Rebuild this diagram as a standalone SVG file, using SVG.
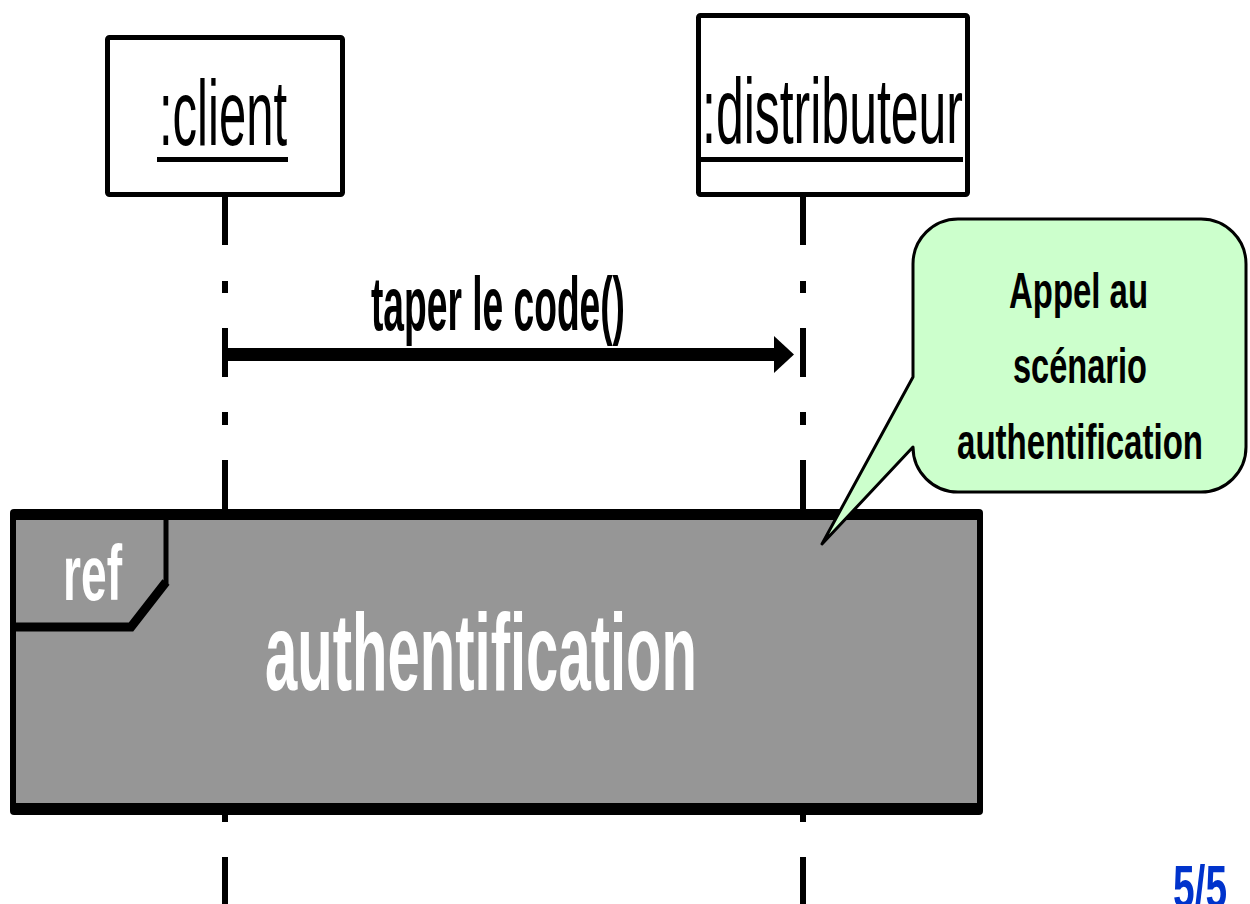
<svg xmlns="http://www.w3.org/2000/svg" width="1250" height="904" viewBox="0 0 1250 904">
<style>
  .box { fill: #ffffff; stroke: #000000; stroke-width: 5; }
  .lbl { font-family: "Liberation Sans Narrow", "Liberation Sans", Arial, sans-serif; fill: #000000; }
  .bold { font-weight: bold; }
  .uline { fill: #000000; }
  .lifeline { fill: none; stroke: #000000; stroke-width: 6; }
  .msg { fill: none; stroke: #000000; stroke-width: 13; }
  .white { fill: #ffffff; }
</style>
<defs>
  <marker id="arrowhead" markerUnits="userSpaceOnUse" markerWidth="21" markerHeight="38" viewBox="0 0 21 38" refX="0" refY="18.5" orient="auto">
    <path d="M0,0 L20,18.5 L0,37 Z" fill="#000000"/>
  </marker>
</defs>
<rect width="1250" height="904" fill="#ffffff"/>

<g id="connectors">
  <path class="lifeline" d="M225,197 V245 M225,281 V293 M225,328 V377 M225,412 V425 M225,460 V512 M225,812 V822 M225,857 V904"/>
  <path class="lifeline" d="M803,197 V245 M803,281 V293 M803,328 V377 M803,412 V425 M803,460 V512 M803,812 V822 M803,857 V904"/>
  <line class="msg" x1="225" y1="354.5" x2="774" y2="354.5" marker-end="url(#arrowhead)"/>
  <text class="lbl bold" x="371" y="330" font-size="76" textLength="254" lengthAdjust="spacingAndGlyphs">taper le code()</text>
</g>

<g id="client">
  <rect class="box" x="107.5" y="37.5" width="235" height="157" rx="2"/>
  <text class="lbl" x="159" y="145" font-size="93" textLength="128" lengthAdjust="spacingAndGlyphs">:client</text>
  <rect class="uline" x="157" y="157" width="131" height="5"/>
</g>

<g id="distributeur">
  <rect class="box" x="698.5" y="15.5" width="269" height="179" rx="2"/>
  <text class="lbl" x="702" y="143" font-size="93" textLength="261" lengthAdjust="spacingAndGlyphs">:distributeur</text>
  <rect class="uline" x="701" y="157" width="262" height="5"/>
</g>

<g id="ref-authentification">
  <rect x="10" y="509" width="973" height="306" rx="4" fill="#000000"/>
  <rect x="16" y="520" width="961" height="283" fill="#969696"/>
  <path d="M166,519 V584" fill="none" stroke="#000000" stroke-width="5"/>
  <path d="M166,582 L131,627 L16,627" fill="none" stroke="#000000" stroke-width="9" stroke-linejoin="miter"/>
  <text class="lbl bold white" x="63" y="600" font-size="78" textLength="59" lengthAdjust="spacingAndGlyphs">ref</text>
  <text class="lbl bold white" x="265" y="690" font-size="110" textLength="432" lengthAdjust="spacingAndGlyphs">authentification</text>
</g>

<g id="note">
  <path d="M958,219 H1201 A45,45 0 0 1 1246,264 V447 A45,45 0 0 1 1201,492 H958 A45,45 0 0 1 913,447 L822,544 L913,377 V264 A45,45 0 0 1 958,219 Z" fill="#ccffcc" stroke="#000000" stroke-width="3" stroke-linejoin="round"/>
  <text class="lbl bold" x="1009" y="308" font-size="50" textLength="139" lengthAdjust="spacingAndGlyphs">Appel au</text>
  <text class="lbl bold" x="1013" y="383" font-size="50" textLength="134" lengthAdjust="spacingAndGlyphs">scénario</text>
  <text class="lbl bold" x="957" y="459" font-size="50" textLength="246" lengthAdjust="spacingAndGlyphs">authentification</text>
</g>

<g id="page-number">
  <text class="lbl bold" x="1173" y="908" font-size="62" style="fill:#0033cc" textLength="54" lengthAdjust="spacingAndGlyphs">5/5</text>
</g>
</svg>
